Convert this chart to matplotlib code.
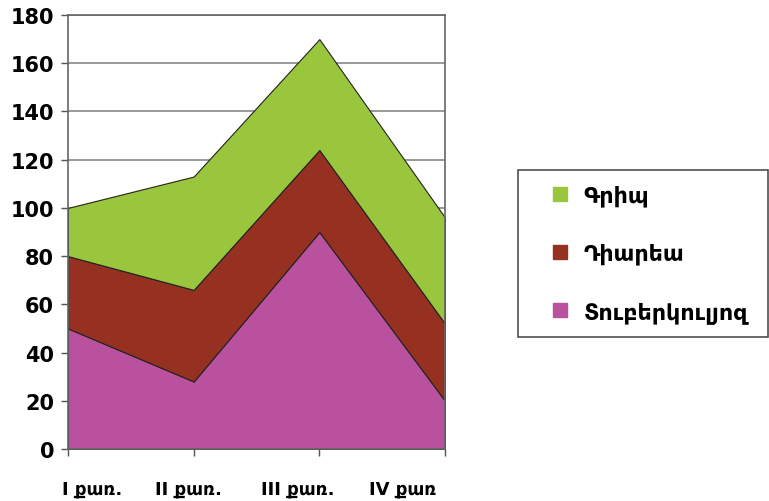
import matplotlib
matplotlib.use("Agg")
import matplotlib.pyplot as plt
import numpy as np
from matplotlib.lines import Line2D
import matplotlib.transforms as mtransforms

# data (stacked: tuberculosis at the bottom, then diarrhea, then flu)
quarters = ["I քառ.", "II քառ.", "III քառ.", "IV քառ"]
tuberkulyoz = [50, 28, 90, 20]
diarea = [30, 38, 34, 32]
grip = [20, 47, 46, 44]

series_names = ["Տուբերկուլյոզ", "Դիարեա", "Գրիպ"]
colors = ["#B9519E", "#963122", "#99C63C"]

# where the category labels sit (they are a bit off the ticks in the original)
label_pos = [0.19, 0.96, 1.83, 2.66]

plt.rcParams['font.family'] = ['DejaVu Sans']

fig = plt.figure(figsize=(7.69, 5.02), dpi=100)
ax = fig.add_axes([0.0884, 0.1036, 0.4903, 0.8645])

x = np.arange(len(quarters))
ax.stackplot(x, tuberkulyoz, diarea, grip, colors=colors,
             edgecolor="#222222", linewidth=0.8, zorder=2)

ax.set_xlim(0, 3)
ax.set_ylim(0, 180)
ax.set_yticks(np.arange(0, 181, 20))
ax.yaxis.grid(True, color="#888888", linewidth=1.2, zorder=0)
ax.set_axisbelow(True)

for lab in ax.get_yticklabels():
    lab.set_fontweight("bold")
ax.tick_params(axis="y", labelsize=15, length=5, width=1, color="#555555", pad=5)
ax.tick_params(axis="x", length=5, width=1, color="#555555", labelbottom=False)
ax.set_xticks(x)

for s in ax.spines.values():
    s.set_color("#666666")
    s.set_linewidth(1.2)

trans = mtransforms.blended_transform_factory(ax.transData, fig.transFigure)
for pos, name in zip(label_pos, quarters):
    ax.text(pos, 0.008, name, transform=trans, ha="center", va="bottom",
            fontsize=13, fontweight="bold")

# legend (flu on top)
handles = [Line2D([], [], marker="s", linestyle="none", markersize=10.5,
                  markerfacecolor=c, markeredgecolor=c) for c in colors[::-1]]
leg = fig.legend(handles, series_names[::-1], loc="upper left",
                 bbox_to_anchor=(518 / 769, 1 - 171 / 502, 251 / 769 - 0.001, 0.0),
                 mode="expand", frameon=True, fancybox=False, edgecolor="#222222",
                 handlelength=2.45, handletextpad=-0.15,
                 labelspacing=1.65, borderpad=0.65, borderaxespad=0,
                 prop={"weight": "bold", "size": 16})
leg.get_frame().set_linewidth(1.2)

fig.savefig("out.png", dpi=100)
